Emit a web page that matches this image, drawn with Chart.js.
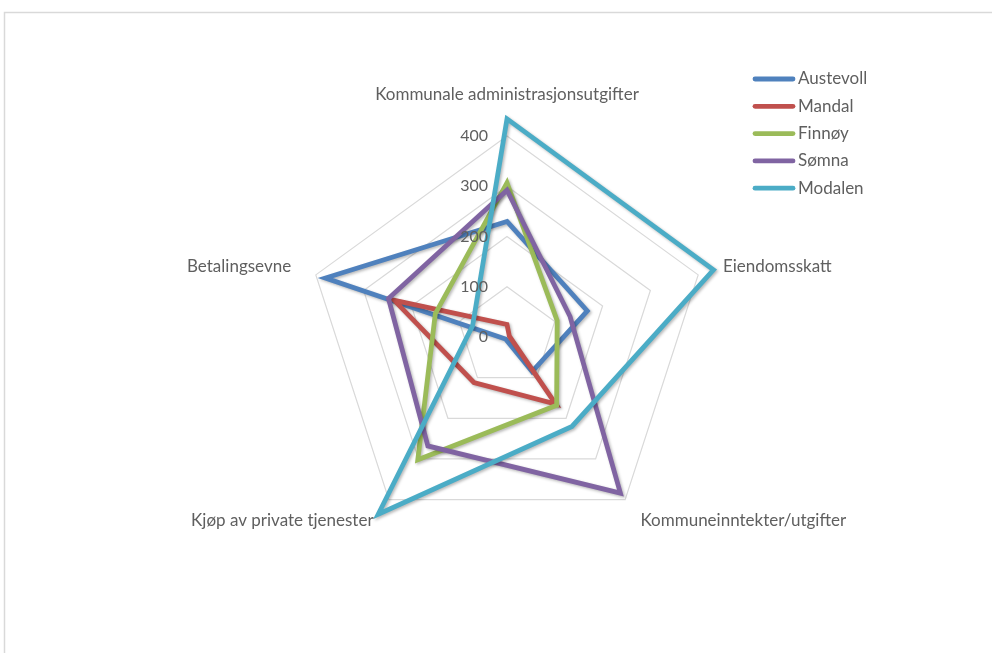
<!DOCTYPE html>
<html><head><meta charset="utf-8">
<script src="https://cdn.jsdelivr.net/npm/chart.js@4/dist/chart.umd.min.js"></script>
<style>html,body{margin:0;padding:0;background:#fff;overflow:hidden}#wrap{position:relative;width:992px;height:653px}</style>
</head><body><div id="wrap"><canvas id="c" width="992" height="653"></canvas></div>
<script>
const categories = ['Kommunale administrasjonsutgifter','Eiendomsskatt','Kommuneinntekter/utgifter','Kjøp av private tjenester','Betalingsevne'];
const seriesNames = ['Austevoll','Mandal','Finnøy','Sømna','Modalen'];
const austevoll = [230, 168, 85, 5, 380];
const mandal = [25, 5, 165, 112, 236];
const finnoy = [307, 105, 168, 302, 150];
const somna = [292, 132, 384, 268, 248];
const modalen = [434, 432, 220, 436, 72];
const tickValues = [0, 100, 200, 300, 400];
const tickLabels = ['0', '100', '200', '300', '400'];
const seriesColors = ['#4F81BD', '#C0504D', '#9BBB59', '#8064A2', '#4BACC6'];

const FONT = 'Lato, "Open Sans", sans-serif';
const TEXT = '#5f5f5f';
const allSeries = [austevoll, mandal, finnoy, somna, modalen];

const datasets = allSeries.map((d, i) => ({
  label: seriesNames[i],
  data: d,
  borderColor: seriesColors[i],
  backgroundColor: 'rgba(0,0,0,0)',
  fill: false,
  borderWidth: 4.8,
  borderJoinStyle: 'miter',
  pointRadius: 0,
  pointHoverRadius: 0,
  clip: false,
  order: allSeries.length - 1 - i
}));

const shadowPlugin = {
  id: 'shadow',
  beforeDatasetDraw(chart) {
    const ctx = chart.ctx;
    ctx.save();
    ctx.shadowColor = 'rgba(0,0,0,0.28)';
    ctx.shadowBlur = 3;
    ctx.shadowOffsetX = 1.5;
    ctx.shadowOffsetY = 1.5;
  },
  afterDatasetDraw(chart) { chart.ctx.restore(); }
};

const decorPlugin = {
  id: 'decor',
  beforeDraw(chart) {
    const ctx = chart.ctx;
    ctx.save();
    ctx.strokeStyle = '#d9d9d9';
    ctx.lineWidth = 1.5;
    ctx.strokeRect(4.5, 12.5, 1100, 800);
    ctx.restore();
  },
  afterDraw(chart) {
    const ctx = chart.ctx;
    const s = chart.scales.r;
    ctx.save();
    ctx.fillStyle = TEXT;
    ctx.font = '17px ' + FONT;
    // axis (point) labels
    categories.forEach((lab, i) => {
      const extra = i === 0 ? 41 : 26;
      const p = s.getPointPosition(i, s.drawingArea + extra);
      let align = 'center';
      if (p.x > s.xCenter + 5) align = 'left';
      else if (p.x < s.xCenter - 5) align = 'right';
      ctx.textAlign = align;
      ctx.textBaseline = 'middle';
      ctx.fillText(lab, p.x, p.y);
    });
    // tick labels
    ctx.font = '16px ' + FONT;
    ctx.textAlign = 'right';
    ctx.textBaseline = 'middle';
    tickValues.forEach((v, i) => {
      const d = s.getDistanceFromCenterForValue(v);
      ctx.fillText(tickLabels[i], s.xCenter - 19, s.yCenter - d);
    });
    // legend
    ctx.font = '17px ' + FONT;
    const lx = 755, ly = 79, step = 27.3;
    seriesNames.forEach((n, i) => {
      const y = ly + i * step;
      ctx.strokeStyle = seriesColors[i];
      ctx.lineWidth = 4.8;
      ctx.lineCap = 'round';
      ctx.beginPath();
      ctx.moveTo(lx, y);
      ctx.lineTo(lx + 38, y);
      ctx.stroke();
      ctx.textAlign = 'left';
      ctx.fillText(n, lx + 43, y);
    });
    ctx.restore();
  }
};

new Chart(document.getElementById('c'), {
  type: 'radar',
  data: { labels: categories, datasets },
  options: {
    responsive: false,
    devicePixelRatio: 1,
    animation: false,
    layout: { padding: { left: 306, right: 284, top: 136, bottom: 115 } },
    plugins: { legend: { display: false }, tooltip: { enabled: false } },
    elements: { line: { tension: 0 } },
    scales: {
      r: {
        min: 0,
        max: 400,
        startAngle: 0,
        ticks: { display: false, stepSize: 100, showLabelBackdrop: false },
        grid: { color: '#d9d9d9', lineWidth: 1.2 },
        angleLines: { display: false },
        pointLabels: { display: false }
      }
    }
  },
  plugins: [shadowPlugin, decorPlugin]
});
</script>
</body></html>
